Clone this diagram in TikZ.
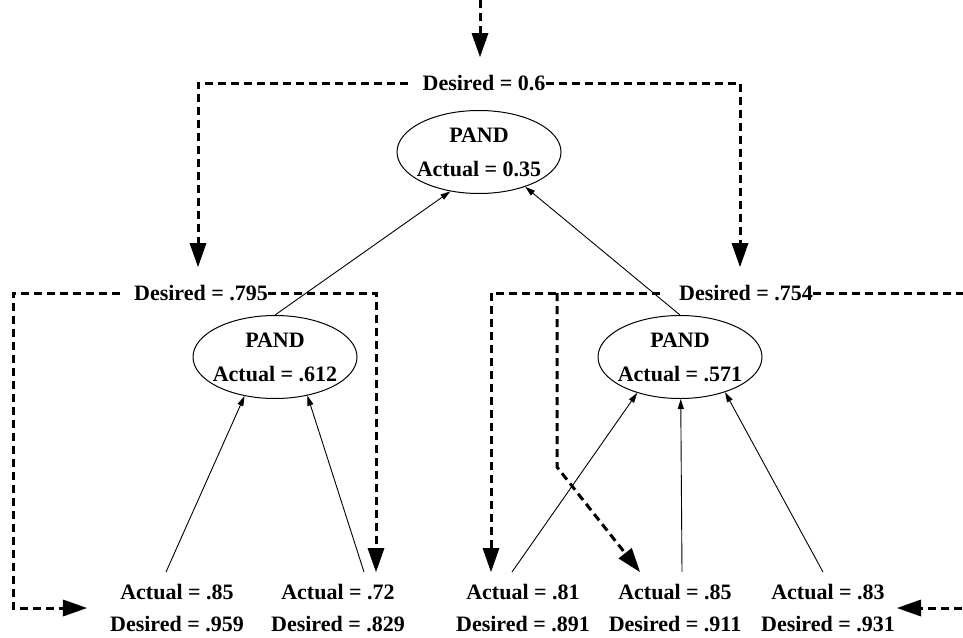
\documentclass[tikz,border=0pt]{standalone}
\usepackage{fontspec}
\setmainfont{Liberation Serif}
\usetikzlibrary{arrows.meta,shapes.geometric}

\begin{document}
\begin{tikzpicture}[x=1pt,y=-1pt,
    gate/.style={ellipse,draw,line width=1pt,minimum width=164pt,minimum height=83pt,
      inner xsep=-5pt,inner ysep=0pt,align=center,font=\fontsize{22}{34}\selectfont\bfseries},
    leaf/.style={align=center,inner xsep=2pt,inner ysep=12pt,font=\fontsize{22}{32}\selectfont\bfseries},
    want/.style={inner xsep=0pt,inner ysep=18pt,font=\fontsize{22}{26}\selectfont\bfseries},
    edge/.style={line width=0.9pt,-{Triangle[length=10pt,width=6pt]}},
    flow/.style={line width=3pt,dash pattern=on 8pt off 5pt,
      -{Triangle[length=24pt,width=17pt,line width=0pt]}}]
    \useasboundingbox (0,0) rectangle (963,637);
    \clip (0,0) rectangle (963,637);
    % gates
    \node[gate] (top) at (479,152) {PAND\\Actual = 0.35};
    \node[gate] (pl) at (275,357) {PAND\\Actual = .612};
    \node[gate] (pr) at (680,357) {PAND\\Actual = .571};
    % desired values passed down
    \node[want] (d0) at (484,83) {Desired = 0.6};
    \node[want] (d1) at (201,293) {Desired = .795};
    \node[want] (d2) at (746,293) {Desired = .754};
    % leaves
    \node[leaf] (l1) at (177,608) {Actual = .85\\Desired = .959};
    \node[leaf] (l2) at (338,608) {Actual = .72\\Desired = .829};
    \node[leaf] (l3) at (523,608) {Actual = .81\\Desired = .891};
    \node[leaf] (l4) at (675,608) {Actual = .85\\Desired = .911};
    \node[leaf] (l5) at (828,608) {Actual = .83\\Desired = .931};
    \coordinate (in) at (480,0);
    \coordinate (bl) at (13,293);
    \coordinate (tap) at (557,293);
    \coordinate (bend) at (557,467);
    \coordinate (ra) at (990,293);
    % actual values up
    \draw[edge] (pl.north) -- (top.-126);
    \draw[edge] (pr.north) -- (top.-37);
    \draw[edge] ([xshift=-11pt]l1.north) -- (pl.-128);
    \draw[edge] ([xshift=26pt]l2.north) -- (pl.-50);
    \draw[edge] ([xshift=-11pt]l3.north) -- (pr.-140);
    \draw[edge] ([xshift=7pt]l4.north) -- (pr.-89);
    \draw[edge] ([xshift=-5pt]l5.north) -- (pr.-38);
    % desired values down
    \draw[flow] (in) -- (in |- d0.north);
    \draw[flow] ([xshift=-14pt]d0.west) -| ([xshift=-3pt]d1.north);
    \draw[flow] (d0.east) -| ([xshift=-6pt]d2.north);
    \draw[flow] ([xshift=-14pt]d1.west) -- (bl) |- ([xshift=-21pt]l1.west);
    \draw[flow] (d1.east) -| ([xshift=38pt]l2.north);
    \draw[flow] ([xshift=-19pt]d2.west) -| ([xshift=-32pt]l3.north);
    \draw[flow] (tap) -- (bend) -- ([xshift=-35pt]l4.north);
    \draw[flow] (d2.east) -- (ra) |- (l5.east);
\end{tikzpicture}
\end{document}
